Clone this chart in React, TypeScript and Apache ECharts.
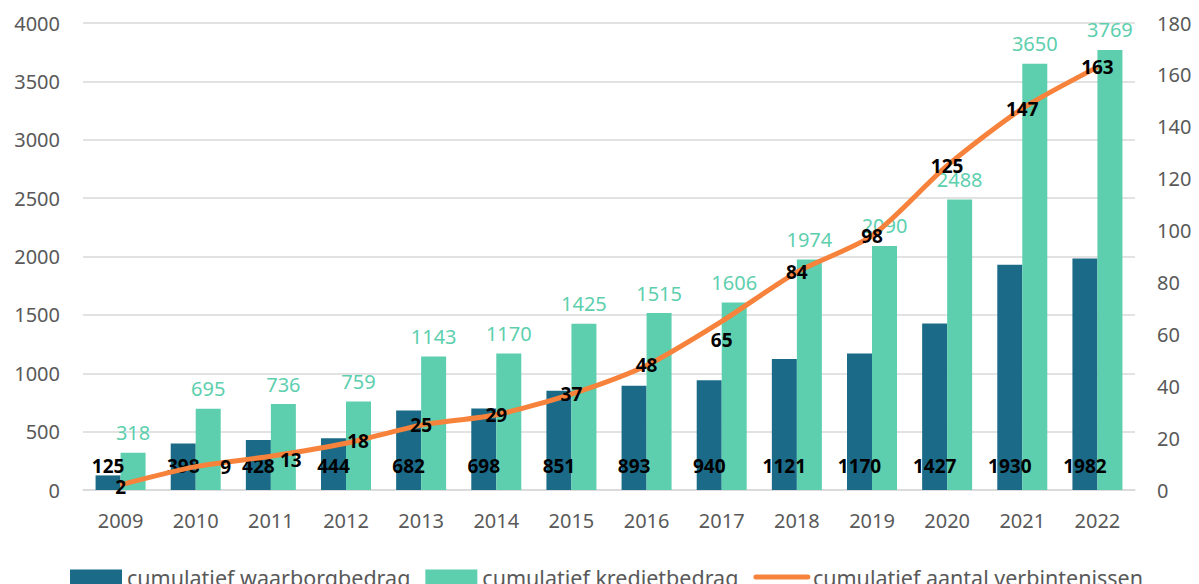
import React, { useEffect, useRef } from "react";
import * as echarts from "echarts";

const years = ["2009", "2010", "2011", "2012", "2013", "2014", "2015", "2016", "2017", "2018", "2019", "2020", "2021", "2022"];
const waarborg = [125, 398, 428, 444, 682, 698, 851, 893, 940, 1121, 1170, 1427, 1930, 1982];
const krediet = [318, 695, 736, 759, 1143, 1170, 1425, 1515, 1606, 1974, 2090, 2488, 3650, 3769];
const verbintenissen = [2, 9, 13, 18, 25, 29, 37, 48, 65, 84, 98, 125, 147, 163];
const seriesNames = ["cumulatief waarborgbedrag", "cumulatief kredietbedrag", "cumulatief aantal verbintenissen"];

// label nudges (styling only)
const lineLabelOffsets: Record<number, [number, number]> = {
  0: [0, 2],
  1: [30, 0],
  2: [20, 4],
  3: [12, -2],
  8: [0, 19],
};

const DARK = "#1b6b88";
const TEAL = "#5dcfae";
const ORANGE = "#f7823b";
const GREY = "#595959";
const FONT = "Noto Sans";

export default function App() {
  const ref = useRef<HTMLDivElement>(null);
  useEffect(() => {
    if (!ref.current) return;
    const chart = echarts.init(ref.current, null, { renderer: "svg" });
    chart.setOption({
      animation: false,
      textStyle: { fontFamily: FONT },
      grid: { left: 83, right: 64, top: 23, bottom: 94, containLabel: false },
      legend: {
        left: 65,
        top: 561,
        itemWidth: 52,
        itemHeight: 15,
        itemGap: 15,
        textStyle: { fontSize: 21.5, color: GREY, fontFamily: FONT },
        data: [
          { name: seriesNames[0], icon: "rect" },
          { name: seriesNames[1], icon: "rect" },
          {
            name: seriesNames[2],
            itemStyle: { opacity: 0 },
            lineStyle: { width: 5, cap: "round", color: ORANGE },
          },
        ],
      },
      xAxis: {
        type: "category",
        data: years,
        axisLine: { show: true, lineStyle: { color: "#d9d9d9", width: 1.5 } },
        axisTick: { show: false },
        axisLabel: { color: GREY, fontSize: 20, margin: 20 },
      },
      yAxis: [
        {
          type: "value",
          min: 0,
          max: 4000,
          interval: 500,
          axisLine: { show: false },
          axisTick: { show: false },
          axisLabel: { color: GREY, fontSize: 20, margin: 23, formatter: (v: number) => String(v) },
          splitLine: { lineStyle: { color: "#d9d9d9", width: 1.5 } },
        },
        {
          type: "value",
          min: 0,
          max: 180,
          interval: 20,
          axisLine: { show: false },
          axisTick: { show: false },
          axisLabel: { color: GREY, fontSize: 20, margin: 22, formatter: (v: number) => String(v) },
          splitLine: { show: false },
        },
      ],
      series: [
        {
          name: seriesNames[0],
          type: "bar",
          data: waarborg,
          barWidth: 25,
          barGap: "0%",
          itemStyle: { color: DARK },
          label: {
            show: true,
            position: "insideBottom",
            distance: 15,
            color: "#000",
            fontWeight: "bold",
            fontSize: 19,
            fontFamily: FONT,
          },
          z: 2,
        },
        {
          name: seriesNames[1],
          type: "bar",
          data: krediet,
          barWidth: 25,
          barGap: "0%",
          itemStyle: { color: TEAL },
          label: {
            show: true,
            position: "top",
            distance: 10,
            color: TEAL,
            fontSize: 20,
            fontFamily: FONT,
          },
          z: 2,
        },
        {
          name: seriesNames[2],
          type: "line",
          yAxisIndex: 1,
          smooth: 0.25,
          symbol: "circle",
          symbolSize: 1,
          itemStyle: { color: ORANGE },
          lineStyle: { color: ORANGE, width: 5 },
          data: verbintenissen.map((v, i) => ({
            value: v,
            label: lineLabelOffsets[i] ? { offset: lineLabelOffsets[i] } : undefined,
          })),
          label: {
            show: true,
            position: "inside",
            color: "#000",
            fontWeight: "bold",
            fontSize: 19,
            fontFamily: FONT,
          },
          z: 5,
        },
      ],
    });
    return () => chart.dispose();
  }, []);
  return <div ref={ref} style={{ width: 1199, height: 584, position: "absolute", left: 0, top: 0 }} />;
}
